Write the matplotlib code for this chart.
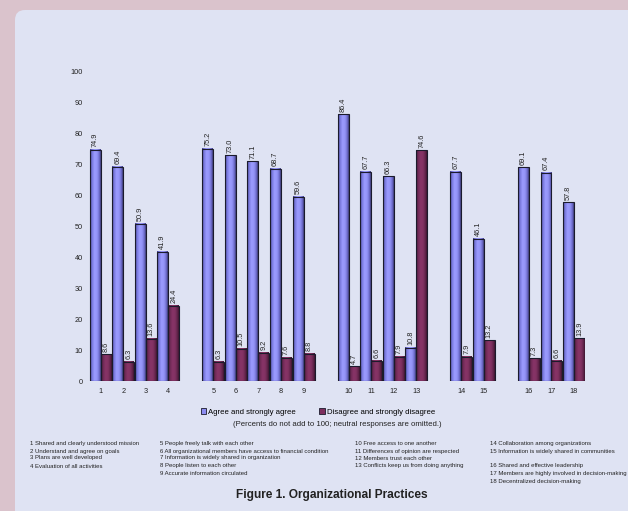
import numpy as np
import matplotlib
matplotlib.use("Agg")
import matplotlib.pyplot as plt
from matplotlib.colors import LinearSegmentedColormap
from matplotlib.patches import FancyBboxPatch, Patch

plt.rcParams['font.family'] = ['Liberation Sans', 'DejaVu Sans']

# ---------------- data ----------------
categories = [str(i) for i in range(1, 19)]
group_sizes = [4, 5, 4, 2, 3]
agree = [74.9, 69.4, 50.9, 41.9, 75.2, 73.0, 71.1, 68.7, 59.6,
         86.4, 67.7, 66.3, 10.8, 67.7, 46.1, 69.1, 67.4, 57.8]
disagree = [8.6, 6.3, 13.6, 24.4, 6.3, 10.5, 9.2, 7.6, 8.8,
            4.7, 6.6, 7.9, 74.6, 7.9, 13.2, 7.3, 6.6, 13.9]
series_names = ["Agree and strongly agree", "Disagree and strongly disagree"]
yticks = list(range(0, 101, 10))
subtitle = "(Percents do not add to 100; neutral responses are omitted.)"
title = "Figure 1. Organizational Practices"
descriptions = [
    "1 Shared and clearly understood mission",
    "2 Understand and agree on goals",
    "3 Plans are well developed",
    "4 Evaluation of all activities",
    "5 People freely talk with each other",
    "6 All organizational members have access to financial condition",
    "7 Information is widely shared in organization",
    "8 People listen to each other",
    "9 Accurate information circulated",
    "10 Free access to one another",
    "11 Differences of opinion are respected",
    "12 Members trust each other",
    "13 Conflicts keep us from doing anything",
    "14 Collaboration among organizations",
    "15 Information is widely shared in communities",
    "16 Shared and effective leadership",
    "17 Members are highly involved in decision-making",
    "18 Decentralized decision-making",
]

# ---------------- layout ----------------
W, H = 628, 511
fig = plt.figure(figsize=(W / 100, H / 100), dpi=100)
fig.patch.set_facecolor("#dac3cc")

panel = FancyBboxPatch((15, -30), 660, 30 + H - 10,
                       boxstyle="round,pad=0,rounding_size=10",
                       transform=None, facecolor="#dfe3f3",
                       edgecolor="none", zorder=-5)
fig.patches.append(panel)

ax = fig.add_axes([89.4 / W, (H - 381) / H, (585.3 - 89.4) / W, (381 - 72) / H])
ax.set_zorder(2)
ax.set_facecolor("none")
for s in ax.spines.values():
    s.set_visible(False)

# slot positions with a blank slot between groups
positions = []
p = 0
for g in group_sizes:
    positions.extend(range(p, p + g))
    p += g + 1
positions = np.array(positions, dtype=float)

w = 0.487
blue_cmap = LinearSegmentedColormap.from_list(
    "b", [(0, "#3e3e78"), (0.15, "#7272d6"), (0.42, "#9c9cff"),
          (0.65, "#9393f6"), (0.86, "#6e6ccc"), (1, "#3e3e78")])
red_cmap = LinearSegmentedColormap.from_list(
    "r", [(0, "#3f1530"), (0.15, "#6a2852"), (0.42, "#883468"),
          (0.65, "#823262"), (0.86, "#62244c"), (1, "#3f1530")])
grad = np.linspace(0, 1, 64).reshape(1, -1)

def draw(vals, offset, cmap):
    bars = ax.bar(positions + offset, vals, w, facecolor="none",
                  edgecolor="#1b1b2c", linewidth=0.8, zorder=3)
    for b in bars:
        x0, bw, bh = b.get_x(), b.get_width(), b.get_height()
        ax.imshow(grad, extent=[x0, x0 + bw, 0, bh], aspect="auto",
                  cmap=cmap, zorder=2, interpolation="bilinear")
        ax.annotate(f"{bh:.1f}", (x0 + bw / 2, bh), xytext=(0, 1.8),
                    textcoords="offset points", rotation=90,
                    ha="center", va="bottom", fontsize=5.3, color="#222222")
    return bars

draw(agree, -w / 2, blue_cmap)
draw(disagree, w / 2, red_cmap)

ax.set_xlim(-0.5, positions[-1] + 0.5)
ax.set_ylim(0, 100)
ax.set_yticks(yticks)
ax.set_xticks(positions)
ax.set_xticklabels(categories)
ax.tick_params(axis="both", length=0, labelsize=5.3, colors="#222222")
ax.tick_params(axis="x", pad=5)
ax.tick_params(axis="y", pad=4.5)

handles = [Patch(facecolor="#8c8cf0", edgecolor="#1b1b2c", linewidth=0.6),
           Patch(facecolor="#7d2f5e", edgecolor="#1b1b2c", linewidth=0.6)]
fig.legend(handles, series_names, loc="center", bbox_to_anchor=(318 / W, 1 - 412 / H),
           ncol=2, frameon=False, fontsize=5.6, handlelength=0.75, handleheight=0.7,
           handletextpad=0.25, columnspacing=3.0, borderpad=0)

fig.text(337 / W, 1 - 424.5 / H, subtitle, ha="center", va="center",
         fontsize=5.6, color="#222222")

# footnotes
col_x = [30, 160, 355, 490]
row_y = [443.5, 451, 458, 466, 473.5, 481]
columns = [
    [(0, 0), (1, 1), (2, 2), (3, 3)],
    [(4, 0), (5, 1), (6, 2), (7, 3), (8, 4)],
    [(9, 0), (10, 1), (11, 2), (12, 3)],
    [(13, 0), (14, 1), (15, 3), (16, 4), (17, 5)],
]
for cx, items in zip(col_x, columns):
    for idx, r in items:
        fig.text(cx / W, 1 - row_y[r] / H, descriptions[idx], ha="left",
                 va="center", fontsize=4.35, color="#222222")

fig.text(332 / W, 1 - 494.5 / H, title, ha="center", va="center",
         fontsize=8.6, fontweight="bold", color="#222222")

fig.savefig("out.png", dpi=100)
